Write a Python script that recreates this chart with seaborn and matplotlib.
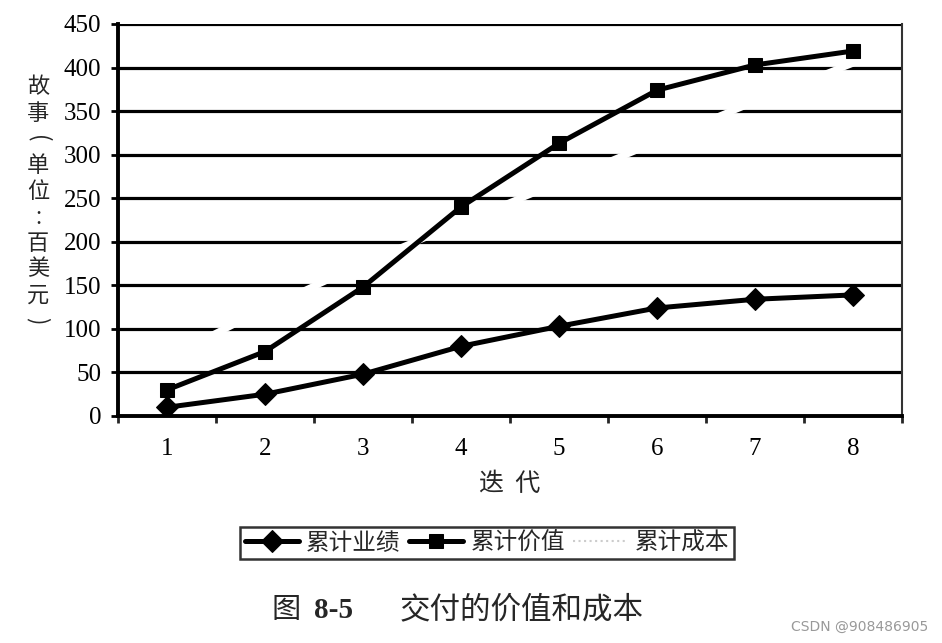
import matplotlib
matplotlib.use("Agg")
import matplotlib.pyplot as plt
import seaborn as sns
import pandas as pd
from matplotlib.lines import Line2D

sns.set_theme(style="white")
plt.rcParams['font.family'] = ['Liberation Serif', 'Noto Sans CJK SC', 'DejaVu Sans']

iterations = [1, 2, 3, 4, 5, 6, 7, 8]
performance = [10, 25, 48, 80, 103, 124, 134, 139]   # 累计业绩
value = [30, 74, 148, 240, 313, 374, 403, 419]       # 累计价值
cost = [67, 123, 175, 222, 268, 315, 361, 405]       # 累计成本
yticks = [0, 50, 100, 150, 200, 250, 300, 350, 400, 450]
ylabel_chars = ["故", "事", "(", "单", "位", ":", "百", "美", "元", ")"]

df = pd.DataFrame({"迭代": iterations, "累计业绩": performance,
                   "累计价值": value, "累计成本": cost})

fig = plt.figure(figsize=(9.42, 6.43), dpi=100)
ax = fig.add_axes([118/942, 1-416/643, (902-118)/942, (416-24)/643])

sns.lineplot(data=df, x="迭代", y="累计业绩", ax=ax, color="black", lw=3.6,
             marker="D", markersize=11, markeredgecolor="black", label="累计业绩", zorder=5)
sns.lineplot(data=df, x="迭代", y="累计价值", ax=ax, color="black", lw=3.6,
             marker="s", markersize=10, markeredgecolor="black", label="累计价值", zorder=5)
sns.lineplot(data=df, x="迭代", y="累计成本", ax=ax, color="white", lw=5,
             label="累计成本", zorder=4)

ax.set_xlim(0.5, 8.5)
ax.set_ylim(0, 450)
ax.set_yticks(yticks)
ax.set_xticks(iterations)
ax.set_xticks([0.5 + i for i in range(9)], minor=True)
for y in yticks[1:]:
    ax.axhline(y, color="black", lw=2.3, zorder=2)
ax.tick_params(axis="y", which="major", length=5, width=2, direction="out",
               labelsize=18, pad=7, colors="black", left=True)
ax.tick_params(axis="x", which="major", length=0, labelsize=18, pad=16, colors="black")
ax.tick_params(axis="x", which="minor", length=5, width=2, direction="out", bottom=True)
for s in ["left", "bottom"]:
    ax.spines[s].set_color("black")
    ax.spines[s].set_linewidth(2.8)
ax.spines["right"].set_color("#333333")
ax.spines["right"].set_linewidth(1.5)
ax.spines["top"].set_visible(False)

ax.set_xlabel("迭  代", fontsize=18, family=['Noto Sans CJK SC'], labelpad=8)
ax.set_ylabel("")
for i, ch in enumerate(ylabel_chars):
    rot = -90 if ch in "()" else 0
    fig.text(38/942, 1-(87 + i*26)/643, ch, ha="center", va="center", rotation=rot,
             rotation_mode="anchor", fontsize=16, family=['Noto Sans CJK SC'])

handles, labels = ax.get_legend_handles_labels()
handles[2] = Line2D([], [], color="#cccccc", lw=1.5, ls=":")
leg = fig.legend(handles, labels, loc="center", bbox_to_anchor=(487/942, 1-543/643),
                 ncol=3, frameon=True, handlelength=2.3, columnspacing=0.35,
                 handletextpad=0.3, borderpad=0.2, borderaxespad=0,
                 prop={'family': ['Noto Sans CJK SC'], 'size': 17})
leg.get_frame().set_edgecolor("black")
leg.get_frame().set_linewidth(1.8)
leg.get_frame().set_boxstyle("square", pad=0)
if ax.get_legend():
    ax.get_legend().remove()

fig.text(286/942, 1-610/643, "图", ha="center", va="center",
         fontsize=21, family=['Noto Sans CJK SC'])
fig.text(334/942, 1-610/643, "8-5", ha="center", va="center",
         fontsize=21, weight="bold", family=['Liberation Serif'])
fig.text(522/942, 1-610/643, "交付的价值和成本", ha="center", va="center",
         fontsize=22, family=['Noto Sans CJK SC'])
fig.text(928/942, 1-627/643, "CSDN @908486905", ha="right", va="center",
         fontsize=10, color="#999999", family=['DejaVu Sans'])

fig.savefig("out.png", dpi=100)
